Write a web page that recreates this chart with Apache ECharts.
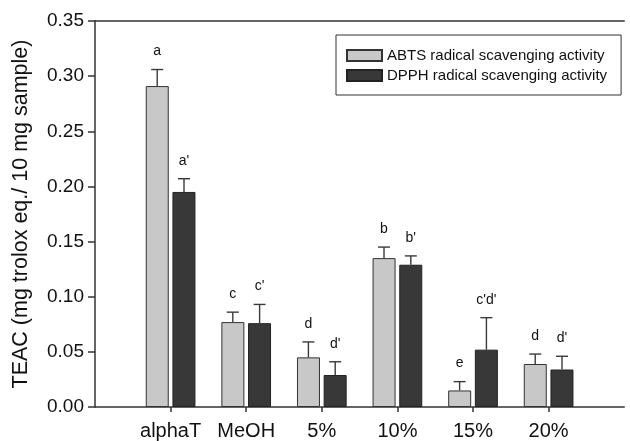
<!DOCTYPE html>
<html>
<head>
<meta charset="utf-8">
<script src="https://cdn.jsdelivr.net/npm/echarts@6/dist/echarts.min.js"></script>
<style>
  html, body { margin: 0; padding: 0; background: #fff; }
  #chart { width: 630px; height: 441px; }
</style>
</head>
<body>
<div id="chart"></div>
<script>
// data
var categories = ['alphaT', 'MeOH', '5%', '10%', '15%', '20%'];
var abts = [0.291, 0.077, 0.045, 0.135, 0.015, 0.039];
var abtsErr = [0.015, 0.009, 0.014, 0.010, 0.008, 0.009];
var abtsLetters = ['a', 'c', 'd', 'b', 'e', 'd'];
var dpph = [0.195, 0.076, 0.029, 0.129, 0.052, 0.034];
var dpphErr = [0.012, 0.017, 0.012, 0.008, 0.029, 0.012];
var dpphLetters = ["a'", "c'", "d'", "b'", "c'd'", "d'"];

var FONT = 'Liberation Sans, Arial, sans-serif';
var BAR_W = 23;
var OFFSET = 13.4; // half distance between the two bars of a group

// empty slots at both ends so the ticks sit where the original has them
var axisCats = [''].concat(categories, [' ']);

function toPairs(vals) {
  return vals.map(function (v, i) { return [i + 1, v]; });
}

function errorSeries(vals, errs, letters, dx) {
  return {
    type: 'custom',
    z: 5,
    silent: true,
    data: vals.map(function (v, i) { return [i + 1, v, errs[i]]; }),
    renderItem: function (params, api) {
      var i = params.dataIndex;
      var base = api.coord([api.value(0), api.value(1)]);
      var top = api.coord([api.value(0), api.value(1) + api.value(2)]);
      var x = base[0] + dx;
      return {
        type: 'group',
        children: [
          { type: 'line', shape: { x1: x, y1: base[1], x2: x, y2: top[1] },
            style: { stroke: '#3a3a3a', lineWidth: 1.4 } },
          { type: 'line', shape: { x1: x - 6, y1: top[1], x2: x + 6, y2: top[1] },
            style: { stroke: '#3a3a3a', lineWidth: 1.4 } },
          { type: 'text', x: x, y: top[1] - 18,
            style: { text: letters[i], align: 'center', verticalAlign: 'middle',
              fontSize: 14, fontFamily: FONT, fill: '#111' } }
        ]
      };
    }
  };
}

var chart = echarts.init(document.getElementById('chart'), null, { renderer: 'canvas' });

var option = {
  animation: false,
  backgroundColor: '#fff',
  textStyle: { fontFamily: FONT },
  grid: { left: 95, top: 21, right: 0, bottom: 32, containLabel: false },
  legend: {
    orient: 'vertical',
    left: 336,
    top: 35,
    padding: [13, 14, 12, 10],
    itemGap: 5,
    itemWidth: 35,
    itemHeight: 11,
    icon: 'rect',
    borderColor: '#333',
    borderWidth: 1,
    textStyle: { fontSize: 15, color: '#111', fontFamily: FONT },
    data: ['ABTS radical scavenging activity', 'DPPH radical scavenging activity']
  },
  xAxis: [{
    type: 'category',
    data: axisCats,
    boundaryGap: false,
    axisLine: { lineStyle: { color: '#333', width: 1.5 } },
    axisTick: {
      length: 5,
      lineStyle: { color: '#333', width: 1.5 },
      interval: function (index, value) { return value.trim() !== ''; }
    },
    axisLabel: {
      interval: 0,
      margin: 14,
      fontSize: 20,
      color: '#111',
      fontFamily: FONT
    },
    splitLine: { show: false }
  }, {
    type: 'value',
    position: 'top',
    min: 0,
    max: 1,
    axisLine: { show: true, onZero: false, lineStyle: { color: '#333', width: 1.5 } },
    axisTick: { show: false },
    axisLabel: { show: false },
    splitLine: { show: false }
  }],
  yAxis: {
    type: 'value',
    min: 0,
    max: 0.35,
    interval: 0.05,
    name: 'TEAC (mg trolox eq./ 10 mg sample)',
    nameLocation: 'middle',
    nameGap: 63,
    nameTextStyle: { fontSize: 21.5, color: '#111', fontFamily: FONT },
    axisLine: { show: true, lineStyle: { color: '#333', width: 1.5 } },
    axisTick: { show: true, length: 7, lineStyle: { color: '#333', width: 1.5 } },
    axisLabel: {
      margin: 11,
      fontSize: 19,
      color: '#111',
      fontFamily: FONT,
      formatter: function (v) { return v.toFixed(2); }
    },
    splitLine: { show: false }
  },
  series: [{
    name: 'ABTS radical scavenging activity',
    type: 'bar',
    barWidth: BAR_W,
    barGap: '16%',
    data: toPairs(abts),
    itemStyle: { color: '#c8c8c8', borderColor: '#333', borderWidth: 1 }
  }, {
    name: 'DPPH radical scavenging activity',
    type: 'bar',
    barWidth: BAR_W,
    barGap: '16%',
    data: toPairs(dpph),
    itemStyle: { color: '#383838', borderColor: '#222', borderWidth: 1 }
  },
  errorSeries(abts, abtsErr, abtsLetters, -OFFSET),
  errorSeries(dpph, dpphErr, dpphLetters, OFFSET)
  ]
};

chart.setOption(option);
</script>
</body>
</html>
